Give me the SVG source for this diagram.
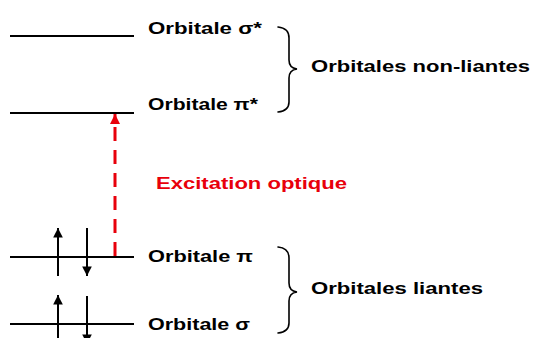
<svg xmlns="http://www.w3.org/2000/svg" width="534" height="338" viewBox="0 0 534 338">
<style>
.lvl{stroke:#000;stroke-width:2;fill:none}
.lbl{font-family:"Liberation Sans",Arial,sans-serif;font-weight:bold;font-size:17px;fill:#000}
.red{fill:#e8000b}
.brace{stroke:#000;stroke-width:1.6;fill:none;stroke-linecap:round}
.e{stroke:#000;stroke-width:2;fill:none}
.exc{stroke:#e8000b;stroke-width:3;fill:none;stroke-dasharray:14 9}
</style>
<defs>
<marker id="ah" viewBox="0 0 10 10" refX="10" refY="5" markerWidth="4.8" markerHeight="4.8" markerUnits="strokeWidth" orient="auto">
<path d="M0,0 L10,5 L0,10 z" fill="#000"/>
</marker>
<marker id="rh" viewBox="0 0 10 10" refX="10" refY="5" markerWidth="3.4" markerHeight="3.4" markerUnits="strokeWidth" orient="auto">
<path d="M0,0 L10,5 L0,10 z" fill="#e8000b"/>
</marker>
</defs>
<rect width="534" height="338" fill="#fff"/>
<g id="sigma-star">
<line class="lvl" x1="10" y1="36" x2="134" y2="36"/>
<text class="lbl" x="148" y="34" textLength="114" lengthAdjust="spacingAndGlyphs">Orbitale σ*</text>
</g>
<g id="pi-star">
<line class="lvl" x1="10" y1="113" x2="134" y2="113"/>
<text class="lbl" x="148" y="110" textLength="110" lengthAdjust="spacingAndGlyphs">Orbitale π*</text>
</g>
<g id="pi">
<line class="lvl" x1="10" y1="257" x2="134" y2="257"/>
<line class="e" x1="58" y1="276" x2="58" y2="228" marker-end="url(#ah)"/>
<line class="e" x1="87" y1="228" x2="87" y2="276" marker-end="url(#ah)"/>
<text class="lbl" x="148" y="262" textLength="105" lengthAdjust="spacingAndGlyphs">Orbitale π</text>
</g>
<g id="sigma">
<line class="lvl" x1="10" y1="324" x2="134" y2="324"/>
<line class="e" x1="58" y1="343" x2="58" y2="295" marker-end="url(#ah)"/>
<line class="e" x1="87" y1="296" x2="87" y2="344" marker-end="url(#ah)"/>
<text class="lbl" x="148" y="330" textLength="102" lengthAdjust="spacingAndGlyphs">Orbitale σ</text>
</g>
<g id="brace-nonliantes">
<path class="brace" d="M278,27 Q289,28 289,38 L289,60 Q289,68 297,69 Q289,70 289,78 L289,102 Q289,111 278,112"/>
<text class="lbl" x="311" y="72" textLength="219" lengthAdjust="spacingAndGlyphs">Orbitales non-liantes</text>
</g>
<g id="brace-liantes">
<path class="brace" d="M278,247 Q289,248 289,258 L289,283 Q289,291 297,292 Q289,293 289,301 L289,323 Q289,332 278,333"/>
<text class="lbl" x="311" y="294" textLength="172" lengthAdjust="spacingAndGlyphs">Orbitales liantes</text>
</g>
<g id="excitation-label">
<text class="lbl red" x="156" y="189" textLength="191" lengthAdjust="spacingAndGlyphs">Excitation optique</text>
</g>
<g id="connectors">
<path class="exc" d="M115,256 L115,114" marker-end="url(#rh)"/>
</g>
</svg>
